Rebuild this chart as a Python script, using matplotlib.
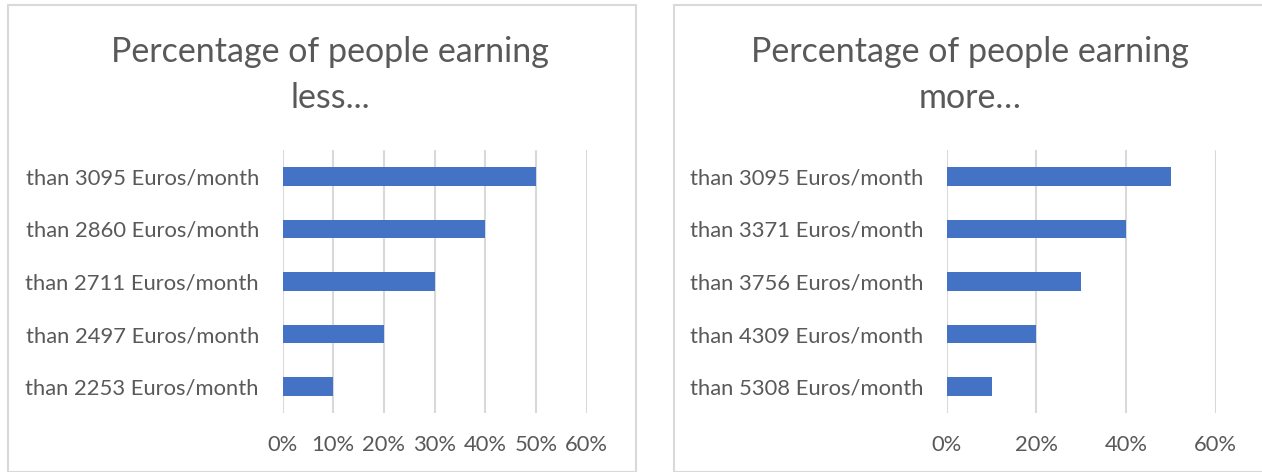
import matplotlib.pyplot as plt
from matplotlib.patches import Rectangle
from matplotlib.ticker import PercentFormatter

plt.rcParams['font.family'] = ['Lato', 'DejaVu Sans']

# data (bottom bar first)
less_labels = ["than 2253 Euros/month", "than 2497 Euros/month", "than 2711 Euros/month",
               "than 2860 Euros/month", "than 3095 Euros/month"]
less_values = [0.10, 0.20, 0.30, 0.40, 0.50]
more_labels = ["than 5308 Euros/month", "than 4309 Euros/month", "than 3756 Euros/month",
               "than 3371 Euros/month", "than 3095 Euros/month"]
more_values = [0.10, 0.20, 0.30, 0.40, 0.50]
less_ticks = [0, 0.1, 0.2, 0.3, 0.4, 0.5, 0.6]
more_ticks = [0, 0.2, 0.4, 0.6]

bar_col = '#4472C4'
txt_col = '#595959'
grid_col = '#D9D9D9'

W, H = 1262, 472
fig = plt.figure(figsize=(W / 100, H / 100), dpi=100)

# chart frames
fig.patches.append(Rectangle((8 / W, 0), 628 / W, 1 - 5 / H, transform=fig.transFigure,
                             fill=False, ec=grid_col, lw=1.5))
fig.patches.append(Rectangle((674 / W, 0), 600 / W, 1 - 5 / H, transform=fig.transFigure,
                             fill=False, ec=grid_col, lw=1.5))

panels = [
    (282.5, 304.2, less_labels, less_values, less_ticks, "Percentage of people earning\nless...", 330),
    (946.7, 269.0, more_labels, more_values, more_ticks, "Percentage of people earning\nmore\u2026", 970),
]

for x0, w, labels, vals, ticks, title, tx in panels:
    ax = fig.add_axes([x0 / W, 1 - 413 / H, w / W, 263 / H])
    ax.barh(range(len(vals)), vals, height=0.35, color=bar_col, zorder=3)
    ax.set_xlim(0, 0.6)
    ax.set_ylim(-0.5, len(vals) - 0.5)
    ax.set_xticks(ticks)
    ax.xaxis.set_major_formatter(PercentFormatter(1.0, decimals=0))
    ax.set_yticks(range(len(vals)))
    ax.set_yticklabels(labels)
    ax.grid(axis='x', color=grid_col, lw=1.5, zorder=0)
    for s in ax.spines.values():
        s.set_visible(False)
    ax.tick_params(axis='both', length=0, labelsize=15.8, labelcolor=txt_col)
    ax.tick_params(axis='y', pad=17)
    ax.tick_params(axis='x', pad=16)
    fig.text(tx / W, 1 - 75 / H, title, ha='center', va='center', fontsize=24.5,
             color=txt_col, linespacing=1.55)

fig.savefig('out.png', dpi=100)
